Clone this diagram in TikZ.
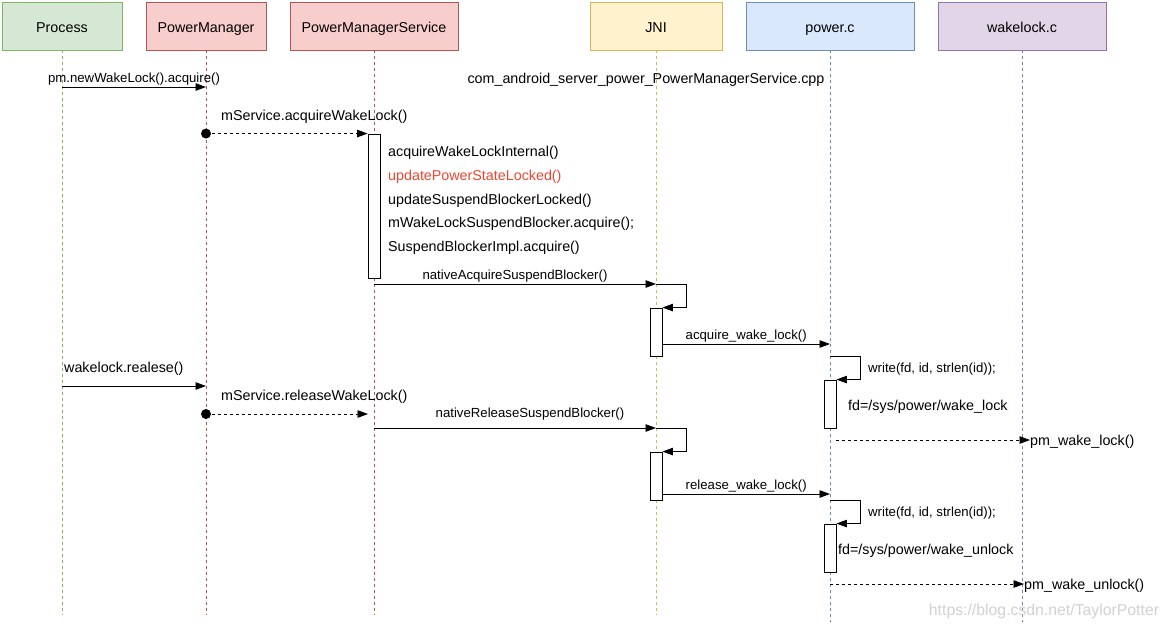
\documentclass[tikz,border=0pt]{standalone}
\usepackage{fontspec}
\setmainfont{Liberation Sans}
\usetikzlibrary{arrows.meta,positioning}

\definecolor{procline}{HTML}{82B366}
\definecolor{procfill}{HTML}{D5E8D4}
\definecolor{pmline}{HTML}{B85450}
\definecolor{pmfill}{HTML}{F8CECC}
\definecolor{jniline}{HTML}{D6B656}
\definecolor{jnifill}{HTML}{FFF2CC}
\definecolor{powline}{HTML}{6C8EBF}
\definecolor{powfill}{HTML}{DAE8FC}
\definecolor{wlline}{HTML}{9673A6}
\definecolor{wlfill}{HTML}{E1D5E7}
\definecolor{hotred}{HTML}{EE4530}

\tikzset{
  head/.style={draw, line width=0.9pt, minimum height=48, text height=12.2pt, text depth=0pt,
    font=\fontsize{14.3}{17}\selectfont},
  life/.style={line width=0.8pt, dash pattern=on 3pt off 3pt},
  msg/.style={line width=0.9pt, -{Triangle[length=10.5pt,width=7.5pt]}},
  ret/.style={msg, dash pattern=on 3pt off 3pt},
  actbox/.style={draw, fill=white, line width=0.9pt, minimum width=12, inner sep=0},
  lbl/.style={font=\fontsize{14.3}{17}\selectfont, inner sep=0, yshift=-2pt},
  small/.style={font=\fontsize{13.2}{15}\selectfont, inner sep=0, yshift=-2pt},
}

\begin{document}
\begin{tikzpicture}[x=1pt,y=-1pt]
    \useasboundingbox (0,0) rectangle (1170,630);
    % heads
    \node[head, draw=procline, fill=procfill, minimum width=120] (proc) at (62,26) {Process};
    \node[head, draw=pmline, fill=pmfill, minimum width=120] (pm) at (206,26) {PowerManager};
    \node[head, draw=pmline, fill=pmfill, minimum width=168] (pms) at (374,26) {PowerManagerService};
    \node[head, draw=jniline, fill=jnifill, minimum width=132] (jni) at (656,26) {JNI};
    \node[head, draw=powline, fill=powfill, minimum width=168] (powc) at (830,26) {power.c};
    \node[head, draw=wlline, fill=wlfill, minimum width=168] (wlc) at (1022,26) {wakelock.c};
    % lifelines
    \foreach \n/\c/\e in {proc/procline/615, pm/pmline/615, pms/pmline/615, jni/jniline/615, powc/powline/622, wlc/wlline/622} {
        \draw[life, draw=\c] (\n.south) -- (\n.south |- 0,\e);
    }
    % activations
    \node[actbox, minimum height=144] (pmsact) at (374,206) {};
    \node[actbox, minimum height=48] (jniact1) at (656,332) {};
    \node[actbox, minimum height=48] (powact1) at (830,404) {};
    \node[actbox, minimum height=48] (jniact2) at (656,476) {};
    \node[actbox, minimum height=48] (powact2) at (830,548) {};

    \node[lbl] (cppname) at (646,78) {com\_android\_server\_power\_PowerManagerService.cpp};

    % acquire
    \draw[msg] (proc.south |- 0,87) -- (pm.south |- 0,87)
        node[small, midway, above=3pt] (acqlbl) {pm.newWakeLock().acquire()};
    \node[lbl, anchor=west] (svcacq) at (221,115) {mService.acquireWakeLock()};
    \fill (pm.south |- pmsact.north) circle (5);
    \draw[ret] (pm.south |- pmsact.north) -- (pmsact.north west);
    \foreach \t/\c [count=\i] in {acquireWakeLockInternal()/black, updatePowerStateLocked()/hotred,
        updateSuspendBlockerLocked()/black, mWakeLockSuspendBlocker.acquire();/black,
        SuspendBlockerImpl.acquire()/black} {
        \node[lbl, anchor=west, text=\c] (pmsnote\i) at (388,{151+23.75*(\i-1)}) {\t};
    }
    \draw[msg] (pms.south |- 0,284) -- (jni.south |- 0,284)
        node[small, midway, above=3pt] (nacqlbl) {nativeAcquireSuspendBlocker()};
    \draw[msg] (jni.south |- 0,284) -- ++(30,0) |- (jniact1.north east);
    \draw[msg] (jniact1.east |- 0,344) -- (powc.south |- 0,344)
        node[small, midway, above=3pt] (awl) {acquire\_wake\_lock()};
    \draw[msg] (powc.south |- jniact1.south) -- ++(30,0) |- (powact1.north east);
    \node[small, anchor=west] (wr1) at (868,367) {write(fd, id, strlen(id));};
    \node[lbl, anchor=west] (fd1) at (848,405) {fd=/sys/power/wake\_lock};
    \node[lbl, anchor=west] (pwl) at (1030,440) {pm\_wake\_lock()};
    \draw[ret] (powact1.east |- 0,440) -- (pwl.west |- 0,440);

    % release
    \node[lbl, anchor=west] (relabel) at (64,367) {wakelock.realese()};
    \draw[msg] (proc.south |- 0,386) -- (pm.south |- 0,386);
    \node[lbl, anchor=west] (svcrel) at (221,395) {mService.releaseWakeLock()};
    \fill (pm.south |- 0,414) circle (5);
    \draw[ret] (pm.south |- 0,414) -- ([xshift=-6pt]pms.south |- 0,414);
    \draw[msg] (pms.south |- 0,428) -- (jni.south |- 0,428);
    \node[small] (nrellbl) at (530,412) {nativeReleaseSuspendBlocker()};
    \draw[msg] (jni.south |- 0,428) -- ++(30,0) |- (jniact2.north east);
    \draw[msg] (jniact2.east |- 0,494) -- (powc.south |- 0,494)
        node[small, midway, above=3pt] (rwl) {release\_wake\_lock()};
    \draw[msg] (powc.south |- jniact2.south) -- ++(30,0) |- (powact2.north east);
    \node[small, anchor=west] (wr2) at (868,511) {write(fd, id, strlen(id));};
    \node[lbl, anchor=west] (fd2) at (838,549) {fd=/sys/power/wake\_unlock};
    \node[lbl, anchor=west] (pwu) at (1024,584) {pm\_wake\_unlock()};
    \draw[ret] (powc.south |- 0,584) -- (pwu.west |- 0,584);

    \node[font=\fontsize{15.8}{18}\selectfont, text=black!18, inner sep=0] (mark) at (1044,611) {https://blog.csdn.net/TaylorPotter};
\end{tikzpicture}
\end{document}
